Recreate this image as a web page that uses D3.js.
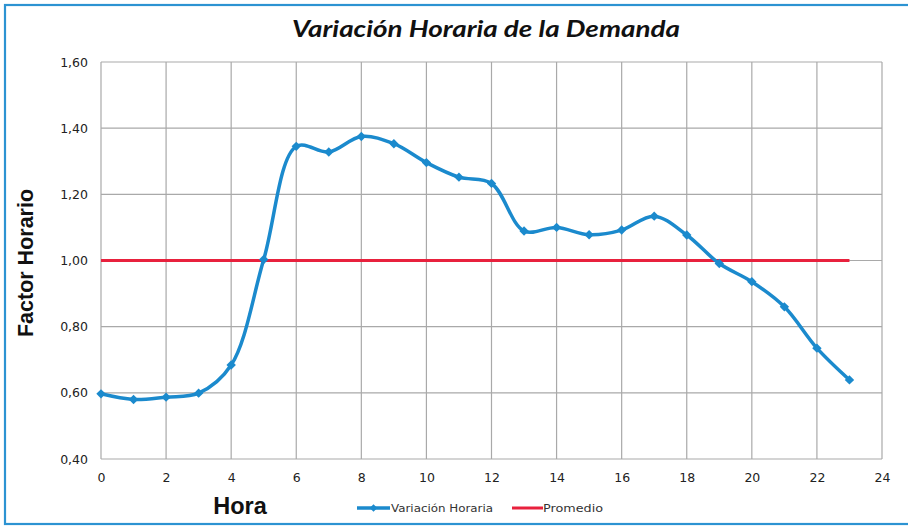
<!DOCTYPE html>
<html>
<head>
<meta charset="utf-8">
<script src="https://cdn.jsdelivr.net/npm/d3@7"></script>
<style>
  html, body { margin: 0; padding: 0; background: #fff; }
  svg { display: block; }
</style>
</head>
<body>
<svg id="chart" width="908" height="526"></svg>
<script>
const hours = [0,1,2,3,4,5,6,7,8,9,10,11,12,13,14,15,16,17,18,19,20,21,22,23];
const factorHorario = [0.597,0.580,0.587,0.599,0.684,1.003,1.345,1.328,1.375,1.353,1.296,1.252,1.233,1.089,1.100,1.078,1.092,1.134,1.077,0.991,0.936,0.860,0.735,0.639];
const promedio = [1.00,1.00,1.00,1.00,1.00,1.00,1.00,1.00,1.00,1.00,1.00,1.00,1.00,1.00,1.00,1.00,1.00,1.00,1.00,1.00,1.00,1.00,1.00,1.00];
const xTicks = [0,2,4,6,8,10,12,14,16,18,20,22,24];
const yTicks = [0.40,0.60,0.80,1.00,1.20,1.40,1.60];
const title = "Variación Horaria de la Demanda";
const xTitle = "Hora";
const yTitle = "Factor Horario";
const seriesNames = ["Variación Horaria", "Promedio"];

const svg = d3.select("#chart");
const blue = "#1B8ACD", red = "#E8213D", grid = "#A9A9A9";
const L = 101, R = 882, T = 62, B = 459;

const x = d3.scaleLinear().domain([0, 24]).range([L, R]);
const y = d3.scaleLinear().domain([0.40, 1.60]).range([B, T]);

// outer frame
svg.append("rect").attr("x", 5).attr("y", 5).attr("width", 920).attr("height", 519)
  .attr("fill", "none").attr("stroke", "#2C93D2").attr("stroke-width", 2.2);

// title
svg.append("text").attr("x", 486).attr("y", 37).attr("text-anchor", "middle")
  .attr("font-family", "Lato, 'Open Sans', sans-serif").attr("font-weight", "bold")
  .attr("font-style", "italic").attr("font-size", 23).attr("fill", "#111")
  .attr("textLength", 388).attr("lengthAdjust", "spacingAndGlyphs")
  .text(title);

// grid
const g = svg.append("g");
g.selectAll("line.h").data(yTicks).enter().append("line")
  .attr("x1", L).attr("x2", R).attr("y1", d => y(d)).attr("y2", d => y(d))
  .attr("stroke", grid).attr("stroke-width", 1.2);
g.selectAll("line.v").data(xTicks).enter().append("line")
  .attr("y1", T).attr("y2", B).attr("x1", d => x(d)).attr("x2", d => x(d))
  .attr("stroke", grid).attr("stroke-width", 1.2);

// axes (labels only)
const yAxis = d3.axisLeft(y).tickValues(yTicks).tickSize(0).tickPadding(13)
  .tickFormat(d => d3.format(".2f")(d).replace(".", ","));
const ya = svg.append("g").attr("transform", `translate(${L},0)`).call(yAxis);
ya.select(".domain").remove();
ya.selectAll("text").attr("font-family", "'DejaVu Sans', Verdana, sans-serif")
  .attr("font-size", 12.5).attr("fill", "#222");

const xAxis = d3.axisBottom(x).tickValues(xTicks).tickSize(0).tickPadding(14);
const xa = svg.append("g").attr("transform", `translate(0,${B})`).call(xAxis);
xa.select(".domain").remove();
xa.selectAll("text").attr("font-family", "'DejaVu Sans', Verdana, sans-serif")
  .attr("font-size", 12.5).attr("fill", "#222");

// axis titles
svg.append("text").attr("transform", "translate(33,263) rotate(-90)")
  .attr("text-anchor", "middle").attr("font-family", "'Liberation Sans', Arial, sans-serif")
  .attr("font-weight", "bold").attr("font-size", 21.5).attr("fill", "#111").text(yTitle);
svg.append("text").attr("x", 240).attr("y", 514).attr("text-anchor", "middle")
  .attr("font-family", "'Liberation Sans', Arial, sans-serif")
  .attr("font-weight", "bold").attr("font-size", 23.5).attr("fill", "#111").text(xTitle);

// promedio line
const lineStraight = d3.line().x((d, i) => x(hours[i])).y(d => y(d));
svg.append("path").datum(promedio).attr("d", lineStraight)
  .attr("fill", "none").attr("stroke", red).attr("stroke-width", 3);

// variation series (smooth)
const lineSmooth = d3.line().x((d, i) => x(hours[i])).y(d => y(d)).curve(d3.curveCatmullRom.alpha(0.5));
svg.append("path").datum(factorHorario).attr("d", lineSmooth)
  .attr("fill", "none").attr("stroke", blue).attr("stroke-width", 3.5).attr("stroke-linejoin", "round");

const diamond = d3.symbol().type(d3.symbolSquare).size(44);
svg.selectAll("path.mk").data(factorHorario).enter().append("path")
  .attr("class", "mk")
  .attr("transform", (d, i) => `translate(${x(hours[i])},${y(d)}) rotate(45)`)
  .attr("d", diamond).attr("fill", blue);

// legend
const lg = svg.append("g");
lg.append("line").attr("x1", 357).attr("x2", 390).attr("y1", 508).attr("y2", 508)
  .attr("stroke", blue).attr("stroke-width", 3.5);
lg.append("path").attr("transform", "translate(373.5,508) rotate(45)")
  .attr("d", d3.symbol().type(d3.symbolSquare).size(28)).attr("fill", blue);
lg.append("text").attr("x", 391).attr("y", 512).attr("font-family", "'DejaVu Sans', Verdana, sans-serif")
  .attr("font-size", 11.3).attr("fill", "#333").attr("textLength", 102).attr("lengthAdjust", "spacingAndGlyphs")
  .text(seriesNames[0]);
lg.append("line").attr("x1", 512).attr("x2", 543).attr("y1", 508).attr("y2", 508)
  .attr("stroke", red).attr("stroke-width", 3);
lg.append("text").attr("x", 543).attr("y", 512).attr("font-family", "'DejaVu Sans', Verdana, sans-serif")
  .attr("font-size", 11.3).attr("fill", "#333").attr("textLength", 60).attr("lengthAdjust", "spacingAndGlyphs")
  .text(seriesNames[1]);
</script>
</body>
</html>
